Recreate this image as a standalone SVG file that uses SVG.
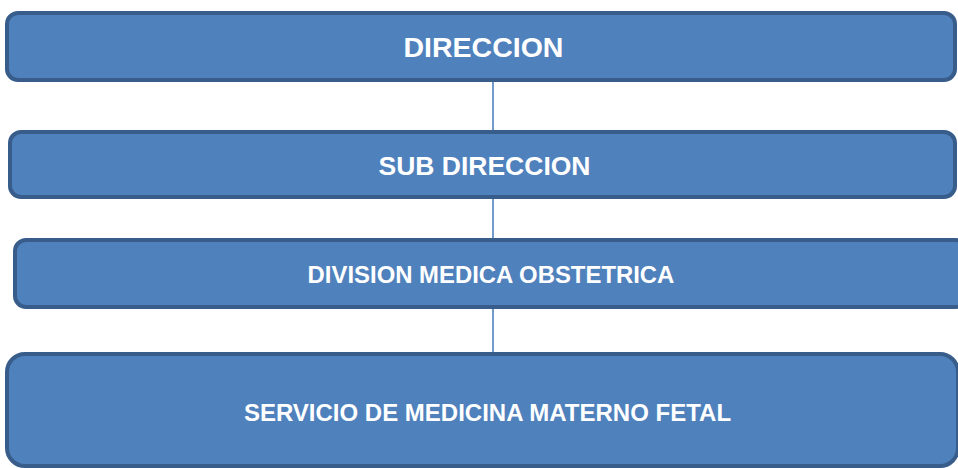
<svg xmlns="http://www.w3.org/2000/svg" width="958" height="468" viewBox="0 0 958 468">
<style>
.box{fill:#4F81BD;stroke:#385D8A;stroke-width:4}
.lbl{font-family:"Liberation Sans",Arial,sans-serif;font-weight:bold;fill:#FFFFFF;text-anchor:middle}
.conn{stroke:#4F81BD;stroke-width:1.6;fill:none}
</style>
<rect width="958" height="468" fill="#FFFFFF"/>
<g id="connectors">
<line class="conn" x1="493" y1="82" x2="493" y2="132"/>
<line class="conn" x1="493" y1="198" x2="493" y2="238"/>
<line class="conn" x1="493" y1="308" x2="493" y2="353"/>
</g>
<g id="node-direccion">
<rect class="box" x="7" y="13" width="948" height="67" rx="11"/>
<text class="lbl" x="483.5" y="57" font-size="28.5">DIRECCION</text>
</g>
<g id="node-subdireccion">
<rect class="box" x="10" y="132" width="945" height="65" rx="11"/>
<text class="lbl" x="484.5" y="175" font-size="26.5">SUB DIRECCION</text>
</g>
<g id="node-division">
<rect class="box" x="15" y="240" width="952" height="67" rx="11"/>
<text class="lbl" x="491" y="283" font-size="23.9">DIVISION MEDICA OBSTETRICA</text>
</g>
<g id="node-servicio">
<rect class="box" x="7" y="354" width="951" height="112" rx="18"/>
<text class="lbl" x="487.5" y="421" font-size="24">SERVICIO DE MEDICINA MATERNO FETAL</text>
</g>
</svg>
